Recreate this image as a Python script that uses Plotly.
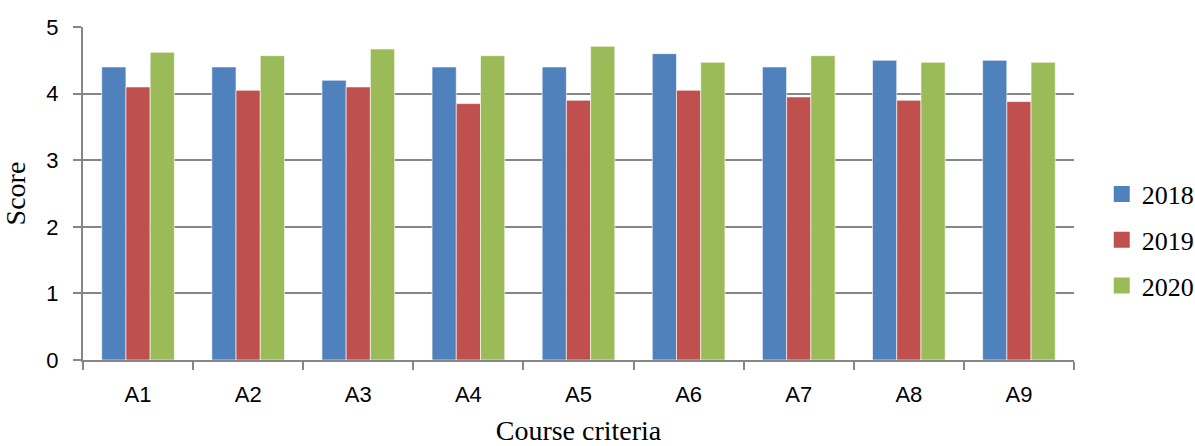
import plotly.graph_objects as go

# Course evaluation scores per criterion, by year
criteria = ["A1", "A2", "A3", "A4", "A5", "A6", "A7", "A8", "A9"]
years = ["2018", "2019", "2020"]
scores_2018 = [4.40, 4.40, 4.20, 4.40, 4.40, 4.60, 4.40, 4.50, 4.50]
scores_2019 = [4.10, 4.05, 4.10, 3.85, 3.90, 4.05, 3.95, 3.90, 3.88]
scores_2020 = [4.62, 4.57, 4.67, 4.57, 4.71, 4.47, 4.57, 4.47, 4.47]
y_ticks = [0, 1, 2, 3, 4, 5]

colors = ["#4F81BD", "#C0504D", "#9BBB59"]
series = [scores_2018, scores_2019, scores_2020]

fig = go.Figure()
for name, vals, col in zip(years, series, colors):
    fig.add_trace(go.Bar(
        x=criteria, y=vals, name=name, showlegend=False,
        marker=dict(color=col, line=dict(color="rgba(255,255,255,0.6)", width=1)),
    ))

# legend entries with larger square swatches
for name, col in zip(years, colors):
    fig.add_trace(go.Scatter(
        x=[None], y=[None], mode="markers", name=name,
        legendgroup=name,
        marker=dict(symbol="square", size=16, color=col),
    ))

grid = "#868686"
serif = "Liberation Serif, Times New Roman, serif"
fig.update_layout(
    width=1195, height=446,
    margin=dict(l=83, r=121, t=27, b=86, autoexpand=False),
    plot_bgcolor="white", paper_bgcolor="white",
    barmode="group", bargap=0.34, bargroupgap=0,
    font=dict(family="Liberation Sans, Arial, sans-serif", size=22, color="black"),
    legend=dict(
        x=1.028, xanchor="left", y=0.36, yanchor="middle",
        font=dict(family=serif, size=26),
        tracegroupgap=9, itemwidth=30,
    ),
    xaxis=dict(
        title=dict(text="Course criteria", standoff=16,
                   font=dict(family=serif, size=28)),
        showline=True, linecolor=grid, linewidth=2,
        ticks="outside", ticklen=8, tickcolor=grid, tickwidth=2,
        tickson="boundaries", showgrid=False,
        ticklabelstandoff=14,
        tickfont=dict(size=22),
    ),
    yaxis=dict(
        title=dict(text="Score", standoff=18,
                   font=dict(family=serif, size=28)),
        range=[0, 5], tickvals=y_ticks,
        showline=True, linecolor=grid, linewidth=2,
        showgrid=True, gridcolor=grid, gridwidth=2,
        ticks="outside", ticklen=8, tickcolor=grid, tickwidth=2,
        ticklabelstandoff=10,
        zeroline=False, tickfont=dict(size=22),
    ),
)

fig.write_html("out.html")
